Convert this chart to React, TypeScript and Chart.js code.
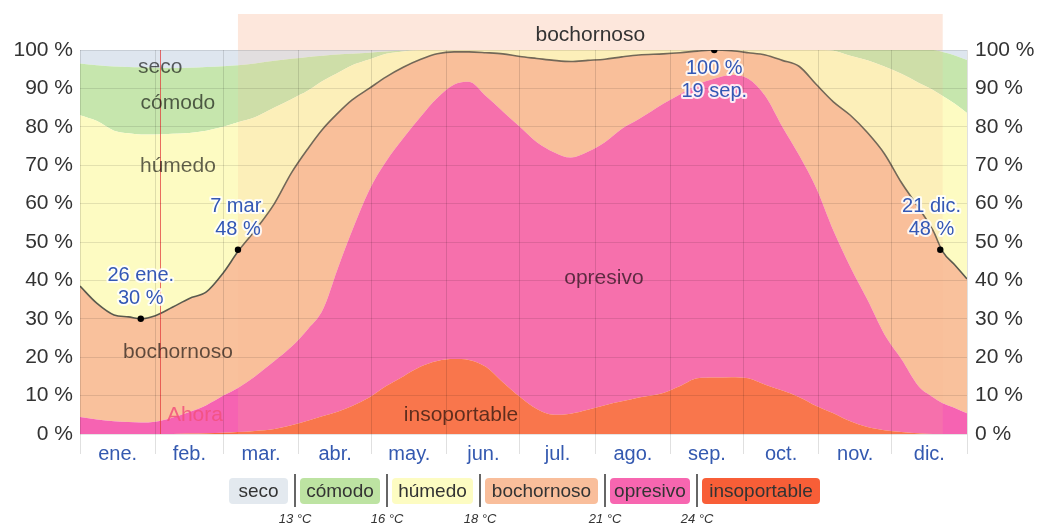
import { useEffect, useRef } from "react";
import { Chart, registerables } from "chart.js";

Chart.register(...registerables);

// ---- data -------------------------------------------------------------
// day of year (0 = 1 ene.) at which the shares were read
const days = [0, 7, 14, 20, 25, 31, 38, 45, 52, 59, 65, 72, 80, 87, 94, 100, 106, 112, 119, 126, 133, 140, 147, 154, 160, 167, 174, 181, 188, 195, 202, 209, 216, 223, 230, 240, 247, 254, 261, 268, 275, 282, 289, 296, 303, 310, 317, 324, 331, 338, 345, 351, 355, 360, 365];

// % of time in each comfort level
const insoportable = [0, 0, 0, 0, 0, 0, 0, 0.1, 0.2, 0.3, 0.5, 0.8, 1.3, 2.3, 3.5, 4.7, 5.8, 7.3, 9.5, 12.5, 15, 17.5, 19, 19.5, 19.3, 17.5, 13.5, 9.7, 6.5, 5, 5.3, 6.3, 7.5, 8.5, 9.5, 10.7, 12.5, 14.5, 14.7, 14.8, 14.5, 12.8, 11.3, 9.6, 7.3, 5.4, 3.3, 1.8, 1, 0.5, 0.2, 0, 0, 0, 0];
const opresivo = [4.4, 3.8, 3.3, 3.1, 3.0, 3.2, 4.2, 5.6, 7.3, 9.7, 11.5, 14.2, 17.7, 20.4, 24, 27.8, 37.2, 45.7, 54, 58.5, 62, 65, 68.5, 71.5, 72.4, 70.5, 70.5, 70.3, 69.5, 68.4, 66.7, 67.2, 68.5, 71, 72.5, 75.3, 76, 76.5, 77.8, 78.7, 78, 75.2, 68.7, 62.9, 56.7, 47.6, 40.2, 33.2, 25, 19, 12.3, 9.6, 8, 6.8, 5.4];
const bochornoso = [34.1, 30.2, 27.7, 27.4, 27, 27.6, 28.8, 29.6, 29.5, 32, 35.5, 38, 41, 45.3, 47, 47, 40.5, 34, 26.5, 22, 18.5, 15, 11.5, 8.5, 7.8, 11.3, 15, 18.3, 21.8, 23.9, 25, 23.8, 21.6, 18.7, 16.7, 13, 10.8, 8.7, 7.5, 6.3, 6.8, 10.7, 17.3, 23.2, 27, 33.5, 39.5, 43.5, 47, 46, 46.5, 43.4, 39.5, 37.2, 35];
const humedo = [44.5, 47.5, 48, 47.8, 48, 47.2, 45.2, 43.1, 42, 38, 33.7, 29.5, 25, 19.2, 15, 12.5, 10.5, 9, 7.5, 6, 4.1, 2.5, 1, 0.5, 0.5, 0.7, 1, 1.7, 2.2, 2.7, 3, 2.7, 2.4, 1.8, 1.3, 1, 0.7, 0.3, 0, 0.2, 0.7, 1.3, 2.7, 4.3, 9, 13.3, 15.5, 18.8, 22.7, 28.3, 32.5, 36.6, 40.5, 42, 43.2];
const comodo = [13.5, 14.5, 16.7, 17.3, 17.5, 17.4, 17.1, 17, 16.6, 15.8, 14.8, 14, 12.2, 10.5, 8.7, 6.5, 4.8, 3, 1.8, 0.6, 0.2, 0, 0, 0, 0, 0, 0, 0, 0, 0, 0, 0, 0, 0, 0, 0, 0, 0, 0, 0, 0, 0, 0, 0, 0, 0.2, 1.5, 2.7, 4.3, 6.2, 8.5, 10.4, 11.5, 12.6, 13.8];
const seco = [3.5, 4, 4.3, 4.4, 4.5, 4.6, 4.7, 4.6, 4.4, 4.2, 4, 3.5, 2.8, 2.3, 1.8, 1.5, 1.2, 1, 0.7, 0.4, 0.2, 0, 0, 0, 0, 0, 0, 0, 0, 0, 0, 0, 0, 0, 0, 0, 0, 0, 0, 0, 0, 0, 0, 0, 0, 0, 0, 0, 0, 0, 0, 0, 0.5, 1.4, 2.6];

const monthStarts = [0, 31, 59, 90, 120, 151, 181, 212, 243, 273, 304, 334, 365];
const monthLabels = ["ene.", "feb.", "mar.", "abr.", "may.", "jun.", "jul.", "ago.", "sep.", "oct.", "nov.", "dic."];

// highlighted points on the muggy-or-worse line
const markerDays = [25, 65, 261, 354];
const markerValues = [30, 48, 100, 48];
const markerTexts = [["26 ene.", "30 %"], ["7 mar.", "48 %"], ["100 %", "19 sep."], ["21 dic.", "48 %"]];
const markerBelow = [false, false, true, false];

const nowDay = 33;
const muggyStart = 65;
const muggyEnd = 355;

const regionLabels = [
  { text: "seco", day: 33, value: 95.6 },
  { text: "cómodo", day: 40.3, value: 86.2 },
  { text: "húmedo", day: 40.3, value: 69.8 },
  { text: "bochornoso", day: 40.3, value: 21.4 },
  { text: "opresivo", day: 215.6, value: 40.6 },
  { text: "insoportable", day: 156.8, value: 4.9 },
];

const legendNames = ["seco", "cómodo", "húmedo", "bochornoso", "opresivo", "insoportable"];
const legendTemps = ["13 °C", "16 °C", "18 °C", "21 °C", "24 °C"];

// ---- styles -----------------------------------------------------------
const FONT = "'Liberation Sans', Arial, sans-serif";
const areaColors = ["#f96a40", "#f663b2", "#f9c19c", "#fdfbc2", "#c6e6ad", "#dee6ef"];
const legendColors = ["#e3e9ef", "#bde3a2", "#fdfcc2", "#f9be9b", "#f766b0", "#f85e37"];
const legendWidths = [59, 80, 81, 113, 80, 118];

const monthMids = monthStarts.slice(0, 12).map((s, i) => (s + monthStarts[i + 1]) / 2);

const decorPlugin = {
  id: "decor",
  afterDatasetDraw(chart: any, args: any) {
    if (args.index !== 0) return;
    const { ctx, chartArea, scales } = chart;
    const xs = scales.x;
    const x1 = xs.getPixelForValue(muggyStart);
    const x2 = xs.getPixelForValue(muggyEnd);
    ctx.save();
    ctx.fillStyle = "rgba(248,175,140,0.3)";
    ctx.fillRect(x1, chartArea.top - 36, x2 - x1, 36);
    ctx.fillStyle = "rgba(250,180,140,0.16)";
    ctx.fillRect(x1, chartArea.top, x2 - x1, chartArea.bottom - chartArea.top);
    const nx = Math.round(xs.getPixelForValue(nowDay)) + 0.5;
    ctx.strokeStyle = "rgba(225,60,60,0.75)";
    ctx.lineWidth = 1;
    ctx.beginPath();
    ctx.moveTo(nx, chartArea.top);
    ctx.lineTo(nx, chartArea.bottom);
    ctx.stroke();
    ctx.restore();
  },
  afterDraw(chart: any) {
    const { ctx, chartArea, scales } = chart;
    const xs = scales.x;
    const ys = scales.y;
    const yr = scales.yR;
    ctx.save();
    ctx.textAlign = "center";
    ctx.textBaseline = "middle";
    ctx.font = `21px ${FONT}`;
    // band title
    ctx.fillStyle = "#333";
    ctx.fillText("bochornoso", (xs.getPixelForValue(muggyStart) + xs.getPixelForValue(muggyEnd)) / 2, chartArea.top - 15);
    // region labels
    ctx.fillStyle = "rgba(0,0,0,0.62)";
    regionLabels.forEach((r) => {
      ctx.fillText(r.text, xs.getPixelForValue(r.day), ys.getPixelForValue(r.value));
    });
    // now label
    ctx.fillStyle = "rgba(242,80,125,0.85)";
    ctx.fillText("Ahora", xs.getPixelForValue(47.3), ys.getPixelForValue(4.9));
    // marker labels
    ctx.font = `20px ${FONT}`;
    ctx.lineJoin = "round";
    markerDays.forEach((d, i) => {
      const px = xs.getPixelForValue(d);
      const py = yr.getPixelForValue(markerValues[i]);
      const lines = markerTexts[i];
      const w = Math.max(...lines.map((t) => ctx.measureText(t).width));
      let cx = Math.min(px, chartArea.right - 6 - w / 2);
      cx = Math.max(cx, chartArea.left + 6 + w / 2);
      const ysPos = markerBelow[i] ? [py + 18, py + 41] : [py - 43, py - 20];
      lines.forEach((t, j) => {
        ctx.strokeStyle = "rgba(255,255,255,0.85)";
        ctx.lineWidth = 4;
        ctx.strokeText(t, cx, ysPos[j]);
        ctx.fillStyle = "#3458b5";
        ctx.fillText(t, cx, ysPos[j]);
      });
    });
    ctx.restore();
  },
};

function App() {
  const canvasRef = useRef<HTMLCanvasElement | null>(null);

  useEffect(() => {
    if (!canvasRef.current) return;
    const series = [insoportable, opresivo, bochornoso, humedo, comodo, seco];
    const names = legendNames.slice().reverse();
    const datasets: any[] = series.map((arr, i) => ({
      type: "line",
      label: names[i],
      data: days.map((d, k) => ({ x: d, y: arr[k] })),
      backgroundColor: areaColors[i],
      borderColor: i === 2 ? "#5a5a4e" : "transparent",
      borderWidth: i === 2 ? 1.6 : 0,
      fill: i === 0 ? "origin" : "-1",
      pointRadius: 0,
      cubicInterpolationMode: "monotone",
      yAxisID: "y",
    }));
    datasets.push({
      type: "scatter",
      label: "marcas",
      data: markerDays.map((d, i) => ({ x: d, y: markerValues[i] })),
      backgroundColor: "#000",
      borderWidth: 0,
      pointRadius: 3.2,
      yAxisID: "yR",
      order: -1,
    });

    const isStart = (v: number) => monthStarts.includes(v);
    const gridColor = (c: any) => (c.tick && isStart(c.tick.value) ? "rgba(0,0,0,0.12)" : "rgba(0,0,0,0)");

    const chart = new Chart(canvasRef.current, {
      type: "line",
      data: { datasets },
      plugins: [decorPlugin],
      options: {
        animation: false,
        responsive: false,
        layout: { padding: { top: 50, left: 0, right: 0, bottom: 0 } },
        plugins: { legend: { display: false }, tooltip: { enabled: false } },
        scales: {
          x: {
            type: "linear",
            min: 0,
            max: 365,
            afterBuildTicks: (scale: any) => {
              scale.ticks = [...monthStarts, ...monthMids].sort((a, b) => a - b).map((v) => ({ value: v }));
            },
            afterFit: (scale: any) => {
              scale.height = 93;
            },
            grid: { z: 1, color: gridColor, tickColor: gridColor, tickLength: 20, drawTicks: true },
            border: { display: false },
            ticks: {
              autoSkip: false,
              maxRotation: 0,
              minRotation: 0,
              padding: -12,
              color: "#3459b0",
              font: { family: FONT, size: 20 },
              callback: (v: any) => {
                const i = monthMids.indexOf(Number(v));
                return i >= 0 ? monthLabels[i] : "";
              },
            },
          },
          y: {
            stacked: true,
            min: 0,
            max: 100,
            position: "left",
            afterFit: (scale: any) => {
              scale.width = 80;
            },
            grid: { z: 1, color: "rgba(0,0,0,0.1)", drawTicks: false },
            border: { display: false },
            ticks: {
              stepSize: 10,
              padding: 7,
              color: "#333",
              font: { family: FONT, size: 21 },
              callback: (v: any) => `${v} %`,
            },
          },
          yR: {
            stacked: false,
            min: 0,
            max: 100,
            position: "right",
            afterFit: (scale: any) => {
              scale.width = 72;
            },
            grid: { display: false, drawTicks: false },
            border: { display: false },
            ticks: {
              stepSize: 10,
              padding: 8,
              color: "#333",
              font: { family: FONT, size: 21 },
              callback: (v: any) => `${v} %`,
            },
          },
        },
      } as any,
    });
    return () => chart.destroy();
  }, []);

  return (
    <div style={{ position: "absolute", left: 0, top: 0, width: 1039, height: 527, background: "#fff", fontFamily: FONT }}>
      <canvas ref={canvasRef} width={1039} height={527} style={{ position: "absolute", left: 0, top: 0 }} />
      <div style={{ position: "absolute", left: 229, top: 474, height: 33, display: "flex", alignItems: "center" }}>
        {legendNames.map((n, i) => (
          <div key={n} style={{ display: "flex", alignItems: "center" }}>
            <div
              style={{
                width: legendWidths[i],
                height: 26,
                lineHeight: "26px",
                borderRadius: 4,
                background: legendColors[i],
                color: "#333",
                fontSize: 19,
                textAlign: "center",
                whiteSpace: "nowrap",
              }}
            >
              {n}
            </div>
            {i < legendTemps.length && (
              <div style={{ position: "relative", width: 2, height: 33, background: "#666", marginLeft: 6, marginRight: 4 }}>
                <div
                  style={{
                    position: "absolute",
                    top: 37,
                    left: 1,
                    transform: "translateX(-50%)",
                    fontSize: 13,
                    fontStyle: "italic",
                    color: "#333",
                    whiteSpace: "nowrap",
                    lineHeight: "15px",
                  }}
                >
                  {legendTemps[i]}
                </div>
              </div>
            )}
          </div>
        ))}
      </div>
    </div>
  );
}

export default App;
